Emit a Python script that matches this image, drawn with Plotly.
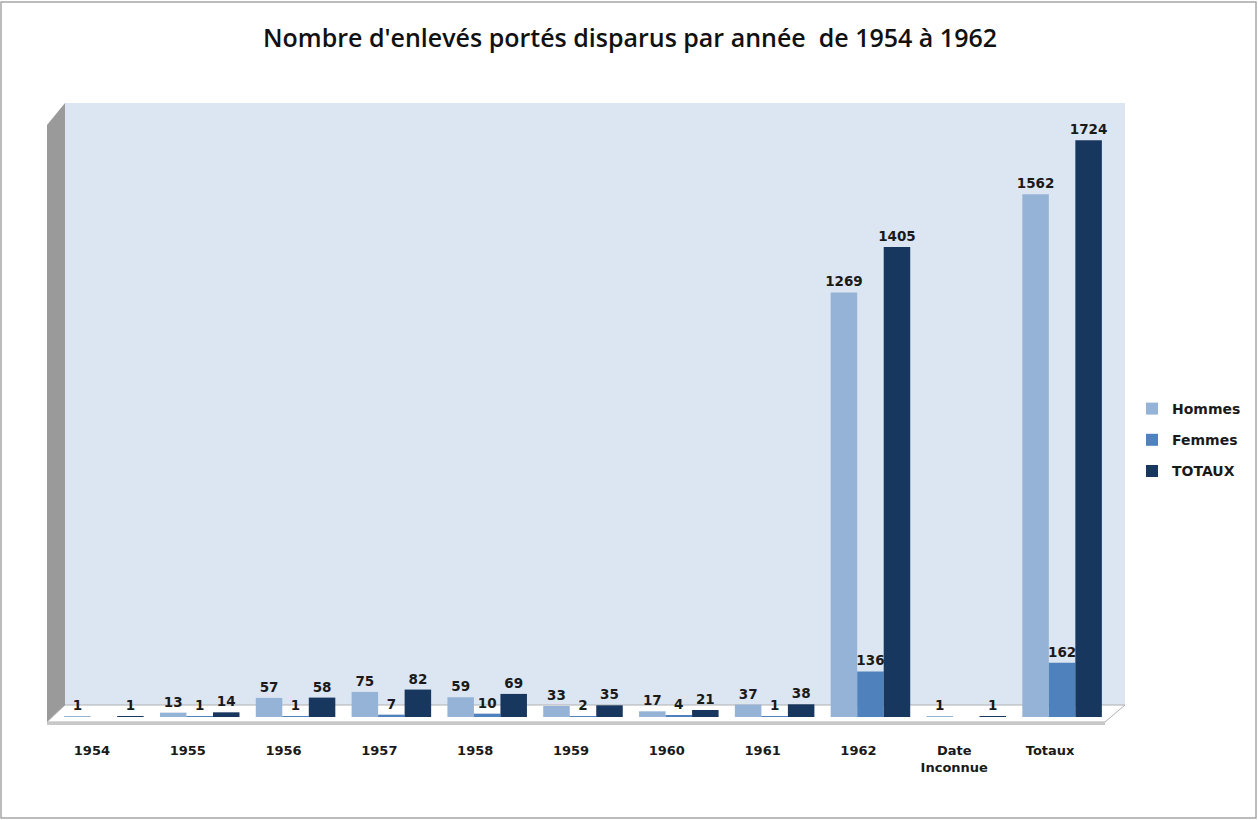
import plotly.graph_objects as go

categories = ["1954", "1955", "1956", "1957", "1958", "1959", "1960", "1961", "1962", "Date<br>Inconnue", "Totaux"]
hommes = [1, 13, 57, 75, 59, 33, 17, 37, 1269, 1, 1562]
femmes = [None, 1, 1, 7, 10, 2, 4, 1, 136, None, 162]
totaux = [1, 14, 58, 82, 69, 35, 21, 38, 1405, 1, 1724]

series = [("Hommes", hommes, "#95b3d7"), ("Femmes", femmes, "#4f81bd"), ("TOTAUX", totaux, "#17375e")]

W, H = 1258, 820
SHIFT = 12
L, R, T, B = 44 + SHIFT, 160 - SHIFT, 103, 103
pw, ph = W - L - R, H - T - B

def px(x):
    return (x - L) / pw

def py(y):
    return (H - B - y) / ph

fig = go.Figure()
for name, vals, col in series:
    fig.add_trace(go.Bar(
        name=name, x=categories, y=vals, legendgroup=name,
        marker=dict(color=col, line=dict(width=0)),
        text=vals, texttemplate="%{y}", textposition="outside", constraintext="none",
        textfont=dict(family="DejaVu Sans", size=13.5, color="#1a1a1a", weight="bold"),
        cliponaxis=False,
    ))

shapes = [
    dict(type="rect", xref="paper", yref="paper", x0=px(65), x1=px(1125), y0=py(705), y1=py(103),
         fillcolor="#dce6f2", line=dict(width=0), layer="below"),
    dict(type="path", xref="paper", yref="paper",
         path=f"M {px(47)},{py(125)} L {px(65)},{py(103)} L {px(65)},{py(705)} L {px(47)},{py(722)} Z",
         fillcolor="#9a9a9a", line=dict(width=0), layer="below"),
    dict(type="path", xref="paper", yref="paper",
         path=f"M {px(47)},{py(722)} L {px(65)},{py(705)} L {px(1125)},{py(705)} L {px(1105)},{py(722)} Z",
         fillcolor="#ffffff", line=dict(width=1, color="#b0b0b0"), layer="below"),
    dict(type="path", xref="paper", yref="paper",
         path=f"M {px(47)},{py(722)} L {px(1105)},{py(722)} L {px(1105)},{py(725)} L {px(47)},{py(725)} Z",
         fillcolor="#c8c8c8", line=dict(width=0), layer="below"),
    dict(type="rect", xref="paper", yref="paper", x0=px(1), x1=px(W - 2), y0=py(H - 2), y1=py(2),
         fillcolor="rgba(0,0,0,0)", line=dict(width=1.5, color="#a6a6a6"), layer="below"),
]

fig.update_layout(
    width=W, height=H,
    margin=dict(l=L, r=R, t=T, b=B),
    paper_bgcolor="white", plot_bgcolor="rgba(0,0,0,0)",
    barmode="group", bargap=0.17, bargroupgap=0.0,
    title=dict(text="Nombre d'enlevés portés disparus par année  de 1954 à 1962",
               x=630 / W, xanchor="center", xref="container", y=1 - 38 / H, yanchor="middle",
               font=dict(family="Open Sans", size=25, color="#111111", weight=600)),
    xaxis=dict(showgrid=False, zeroline=False, showline=False, ticks="",
               tickfont=dict(family="DejaVu Sans", size=13, color="#1a1a1a", weight="bold"),
               ticklabelstandoff=24, ticklabelshift=-SHIFT),
    yaxis=dict(range=[0, 1835], showgrid=False, zeroline=False, showline=False,
               showticklabels=False, ticks=""),
    legend=dict(x=px(1132), y=py(393), xanchor="left", yanchor="top",
                font=dict(family="DejaVu Sans", size=14, color="#1a1a1a", weight="bold"),
                itemwidth=30, tracegroupgap=10, bgcolor="rgba(0,0,0,0)"),
    shapes=shapes,
    showlegend=True,
)

fig.write_html("out.html", config={"displayModeBar": False},
               post_script="document.body.style.margin='0';document.body.style.overflow='hidden';")
